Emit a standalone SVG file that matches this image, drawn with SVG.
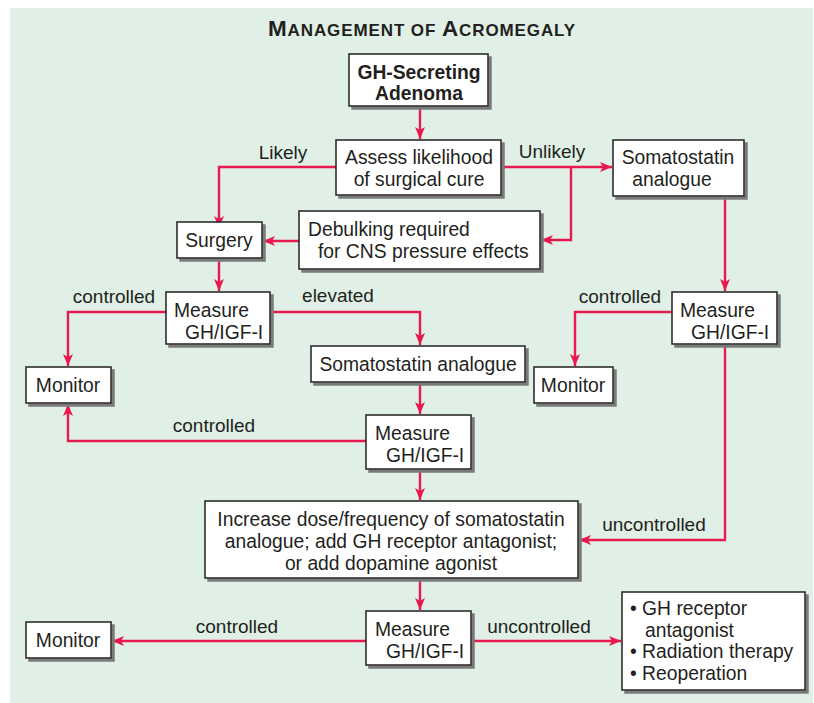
<svg xmlns="http://www.w3.org/2000/svg" width="814" height="703" viewBox="0 0 814 703">
<defs>
<marker id="ah" viewBox="0 0 12 10" refX="12" refY="5" markerWidth="12" markerHeight="10" markerUnits="userSpaceOnUse" orient="auto">
<path d="M0,0 L12,5 L0,10 L3,5 Z" fill="#e8194f"/>
</marker>
<filter id="sh" x="-10%" y="-10%" width="130%" height="140%">
<feDropShadow dx="3" dy="3" stdDeviation="0.6" flood-color="#7a7a7a" flood-opacity="1"/>
</filter>
</defs>
<style>
.bg{fill:#e0f0e6}
.box{fill:#ffffff;stroke:#231f20;stroke-width:1.5;filter:url(#sh)}
.t{font-family:"Liberation Sans",Arial,sans-serif;font-size:19.3px;fill:#231f20}
.c{text-anchor:middle}
.b{font-weight:bold}
.lbl{font-family:"Liberation Sans",Arial,sans-serif;font-size:19px;fill:#231f20}
.con{fill:none;stroke:#e8194f;stroke-width:2.4}
.arr{marker-end:url(#ah)}
</style>
<rect class="bg" x="10" y="8" width="803" height="695"/>
<text class="t b c" x="422" y="36" style="font-size:17px;letter-spacing:0.9px"><tspan style="font-size:22.5px">M</tspan>ANAGEMENT OF <tspan style="font-size:22.5px">A</tspan>CROMEGALY</text>

<g id="connectors">
<path class="con arr" d="M420,106 V139"/>
<path class="con arr" d="M336,167 H219 V228"/>
<path class="con arr" d="M501,167 H612"/>
<path class="con arr" d="M571,167 V240 H541"/>
<path class="con arr" d="M299,241 H263"/>
<path class="con arr" d="M219,258 V291"/>
<path class="con arr" d="M166,312 H68 V366"/>
<path class="con arr" d="M270,312 H420 V345"/>
<path class="con arr" d="M420,382 V414"/>
<path class="con arr" d="M366,441 H68 V404"/>
<path class="con arr" d="M420,469 V500"/>
<path class="con arr" d="M725,196 V291"/>
<path class="con arr" d="M672,312 H575 V366"/>
<path class="con arr" d="M725,344 V540 H579"/>
<path class="con arr" d="M420,578 V610"/>
<path class="con arr" d="M366,641 H112"/>
<path class="con arr" d="M471,641 H621"/>
<text class="lbl c" x="283" y="159">Likely</text>
<text class="lbl c" x="552" y="158">Unlikely</text>
<text class="lbl c" x="114" y="303">controlled</text>
<text class="lbl c" x="338" y="302">elevated</text>
<text class="lbl c" x="620" y="303">controlled</text>
<text class="lbl c" x="214" y="432">controlled</text>
<text class="lbl c" x="654" y="531">uncontrolled</text>
<text class="lbl c" x="237" y="633">controlled</text>
<text class="lbl c" x="539" y="633">uncontrolled</text>
</g>

<g id="adenoma">
<rect class="box" x="349" y="54" width="139" height="52"/>
<text class="t b c" x="419" y="79">GH-Secreting</text>
<text class="t b c" x="419" y="100">Adenoma</text>
</g>
<g id="assess">
<rect class="box" x="336" y="140" width="165" height="55"/>
<text class="t c" x="419" y="164">Assess likelihood</text>
<text class="t c" x="419" y="186">of surgical cure</text>
</g>
<g id="somato1">
<rect class="box" x="613" y="140" width="131" height="56"/>
<text class="t c" x="678" y="164">Somatostatin</text>
<text class="t c" x="672" y="186">analogue</text>
</g>
<g id="debulk">
<rect class="box" x="299" y="211" width="241" height="58"/>
<text class="t" x="308" y="236">Debulking required</text>
<text class="t" x="318" y="258">for CNS pressure effects</text>
</g>
<g id="surgery">
<rect class="box" x="177" y="222" width="85" height="36"/>
<text class="t c" x="219" y="247">Surgery</text>
</g>
<g id="measure1">
<rect class="box" x="166" y="292" width="104" height="52"/>
<text class="t" x="174" y="317">Measure</text>
<text class="t" x="185" y="339">GH/IGF-I</text>
</g>
<g id="monitor1">
<rect class="box" x="26" y="367" width="85" height="36"/>
<text class="t c" x="68" y="392">Monitor</text>
</g>
<g id="somato2">
<rect class="box" x="311" y="346" width="214" height="36"/>
<text class="t c" x="418" y="371">Somatostatin analogue</text>
</g>
<g id="measure2">
<rect class="box" x="366" y="415" width="105" height="54"/>
<text class="t" x="375" y="440">Measure</text>
<text class="t" x="386" y="462">GH/IGF-I</text>
</g>
<g id="measure3">
<rect class="box" x="672" y="292" width="105" height="52"/>
<text class="t" x="680" y="317">Measure</text>
<text class="t" x="691" y="339">GH/IGF-I</text>
</g>
<g id="monitor2">
<rect class="box" x="534" y="367" width="79" height="36"/>
<text class="t c" x="573" y="392">Monitor</text>
</g>
<g id="increase">
<rect class="box" x="205" y="501" width="373" height="77"/>
<text class="t c" x="391" y="526">Increase dose/frequency of somatostatin</text>
<text class="t c" x="391" y="548">analogue; add GH receptor antagonist;</text>
<text class="t c" x="391" y="570">or add dopamine agonist</text>
</g>
<g id="measure4">
<rect class="box" x="366" y="611" width="105" height="54"/>
<text class="t" x="375" y="636">Measure</text>
<text class="t" x="386" y="658">GH/IGF-I</text>
</g>
<g id="monitor3">
<rect class="box" x="26" y="622" width="85" height="36"/>
<text class="t c" x="68" y="647">Monitor</text>
</g>
<g id="options">
<rect class="box" x="622" y="592" width="183" height="98"/>
<text class="t" x="630" y="615">• GH receptor</text>
<text class="t" x="645" y="637">antagonist</text>
<text class="t" x="630" y="658">• Radiation therapy</text>
<text class="t" x="630" y="680">• Reoperation</text>
</g>
</svg>
